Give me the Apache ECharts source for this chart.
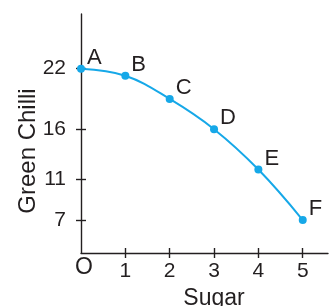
<!DOCTYPE html>
<html>
<head>
<meta charset="utf-8">
<script src="https://cdn.jsdelivr.net/npm/echarts@6/dist/echarts.min.js"></script>
<style>html,body{margin:0;padding:0;background:#fff}#c{width:329px;height:306px}</style>
</head>
<body>
<div id="c"></div>
<script>
const pointNames = ['A', 'B', 'C', 'D', 'E', 'F'];
const sugar = [0, 1, 2, 3, 4, 5];
const greenChilli = [22, 21.3, 19, 16, 12, 7];
const xTickValues = [0, 1, 2, 3, 4, 5];
const yTickValues = [7, 11, 16, 22];

const INK = '#231f20';
const BLUE = '#16a8e8';
const FONT = 'Liberation Sans, Arial, sans-serif';

const chart = echarts.init(document.getElementById('c'));
const data = sugar.map((x, i) => ({ value: [x, greenChilli[i]], name: pointNames[i] }));

const baseX = {
  type: 'value', min: 0, max: 5.57, position: 'bottom',
  splitLine: { show: false }
};
const baseY = {
  type: 'value', min: 3.73, max: 27.42, position: 'left',
  splitLine: { show: false }
};

chart.setOption({
  animation: false,
  grid: { left: 81, right: 1, top: 14, bottom: 53, containLabel: false, outerBoundsMode: 'none' },
  xAxis: [
    Object.assign({}, baseX, {
      name: 'Sugar', nameLocation: 'middle', nameGap: 34, nameMoveOverlap: false,
      nameTextStyle: { color: INK, fontSize: 23, fontFamily: FONT, padding: [0, 0, 0, 19] },
      axisLine: { show: true, lineStyle: { color: INK, width: 1.4 } },
      axisTick: { show: true, length: 5, inside: false, customValues: [1, 2, 3, 4, 5], lineStyle: { color: INK, width: 1.4 } },
      axisLabel: {
        show: true, customValues: xTickValues, margin: 8, color: INK, fontSize: 21, fontFamily: FONT,
        formatter: v => v === 0 ? '{o|O}' : String(v),
        rich: { o: { fontSize: 23, lineHeight: 14, color: INK, fontFamily: FONT, padding: [0, 0, 0, 6] } }
      }
    }),
    Object.assign({}, baseX, {
      axisLine: { show: false },
      axisTick: { show: true, length: 5, inside: true, customValues: [1, 2, 3, 4, 5], lineStyle: { color: INK, width: 1.4 } },
      axisLabel: { show: false }
    })
  ],
  yAxis: [
    Object.assign({}, baseY, {
      name: 'Green Chilli', nameLocation: 'middle', nameGap: 41, nameRotate: 90, nameMoveOverlap: false,
      nameTextStyle: { color: INK, fontSize: 24, fontFamily: FONT, padding: [0, 35, 0, 0] },
      axisLine: { show: true, lineStyle: { color: INK, width: 1.4 } },
      axisTick: { show: true, length: 5, inside: false, customValues: yTickValues, lineStyle: { color: INK, width: 1.4 } },
      axisLabel: { show: true, customValues: yTickValues, margin: 15, color: INK, fontSize: 21, fontFamily: FONT }
    }),
    Object.assign({}, baseY, {
      axisLine: { show: false },
      axisTick: { show: true, length: 5, inside: true, customValues: yTickValues, lineStyle: { color: INK, width: 1.4 } },
      axisLabel: { show: false }
    })
  ],
  series: [{
    type: 'line',
    xAxisIndex: 0, yAxisIndex: 0,
    data: data,
    smooth: 0.4,
    symbol: 'circle', symbolSize: 8,
    lineStyle: { color: BLUE, width: 2 },
    itemStyle: { color: BLUE },
    label: {
      show: true, position: 'right', distance: 2, verticalAlign: 'bottom',
      formatter: p => p.name, color: INK, fontSize: 22, fontFamily: FONT
    }
  }]
});
</script>
</body>
</html>
